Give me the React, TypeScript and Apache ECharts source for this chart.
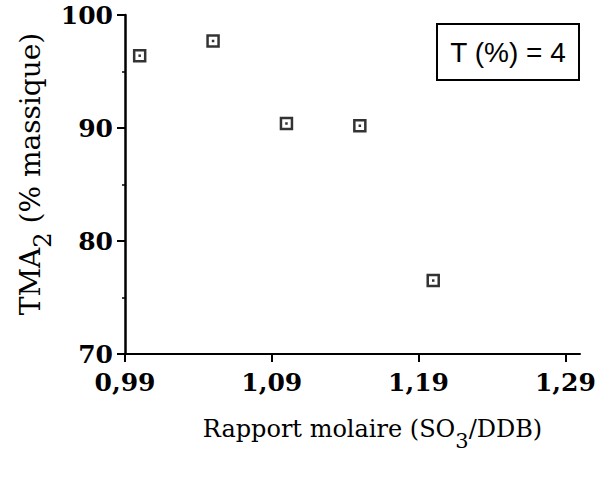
import React, { useEffect, useRef } from "react";
import * as echarts from "echarts";

const ratios = [1.0, 1.05, 1.1, 1.15, 1.2];
const tma2 = [96.4, 97.7, 90.4, 90.2, 76.5];
const xTicks = [0.99, 1.09, 1.19, 1.29];
const yTicks = [70, 80, 90, 100];
const legendText = "T (%) = 4";

const SERIF = "DejaVu Serif";

export default function App() {
  const ref = useRef<HTMLDivElement>(null);
  useEffect(() => {
    if (!ref.current) return;
    const chart = echarts.init(ref.current, undefined, { renderer: "svg" });
    const pts = ratios.map((x, i) => [x, tma2[i]]);
    chart.setOption({
      animation: false,
      backgroundColor: "#ffffff",
      grid: { left: 125, right: 29, top: 15, bottom: 123, containLabel: false },
      xAxis: {
        type: "value",
        min: 0.99,
        max: 1.3,
        splitLine: { show: false },
        axisLine: { show: true, lineStyle: { color: "#000", width: 2 } },
        axisTick: { show: true, customValues: xTicks, length: 8, lineStyle: { color: "#000", width: 2 } },
        axisLabel: {
          customValues: xTicks,
          formatter: (v: number) => v.toFixed(2).replace(".", ","),
          color: "#000",
          fontFamily: SERIF,
          fontWeight: "bold",
          fontSize: 25,
          margin: 16,
        },
        name: "Rapport molaire (SO{sub|3}/DDB)",
        nameLocation: "middle",
        nameGap: 52,
        nameTextStyle: {
          color: "#000",
          fontFamily: SERIF,
          fontSize: 24,
          padding: [0, 0, 0, 40],
          rich: {
            sub: { fontFamily: SERIF, fontSize: 21, color: "#000", verticalAlign: "top", padding: [24, 0, 0, 0] },
          },
        },
      },
      yAxis: {
        type: "value",
        min: yTicks[0],
        max: yTicks[yTicks.length - 1],
        interval: 10,
        splitLine: { show: false },
        axisLine: { show: true, lineStyle: { color: "#000", width: 2.5 } },
        axisTick: { show: true, length: 8, lineStyle: { color: "#000", width: 2 } },
        minorTick: { show: true, splitNumber: 2, length: 3, lineStyle: { color: "#000", width: 1.5 } },
        axisLabel: {
          color: "#000",
          fontFamily: SERIF,
          fontWeight: "bold",
          fontSize: 25,
          margin: 12,
        },
      },
      graphic: [
        {
          type: "text",
          x: 30,
          y: 174,
          rotation: Math.PI / 2,
          style: {
            text: "TMA{sub|2} (% massique)",
            fill: "#000",
            font: "28px 'DejaVu Serif'",
            align: "center",
            verticalAlign: "middle",
            rich: {
              sub: { font: "24px 'DejaVu Serif'", fill: "#000", verticalAlign: "top", padding: [26, 0, 0, 0] },
            },
          },
        },
        {
          type: "group",
          left: 436,
          top: 23,
          children: [
            { type: "rect", shape: { x: 0, y: 0, width: 142, height: 56 }, style: { fill: "#fff", stroke: "#000", lineWidth: 2 } },
            {
              type: "text",
              x: 71,
              y: 28,
              style: {
                text: legendText,
                fill: "#000",
                font: "28px 'Liberation Sans'",
                align: "center",
                verticalAlign: "middle",
              },
            },
          ],
        },
      ],
      series: [
        {
          type: "scatter",
          data: pts,
          symbol: "rect",
          symbolSize: 11,
          itemStyle: { color: "#fff", borderColor: "#000", borderWidth: 2.5 },
          z: 2,
        },
        {
          type: "scatter",
          data: pts,
          symbol: "rect",
          symbolSize: 2.5,
          itemStyle: { color: "#000" },
          z: 3,
        },
      ],
    });
    return () => chart.dispose();
  }, []);
  return (
    <div
      ref={ref}
      style={{ position: "absolute", left: 0, top: 0, width: 609, height: 477, background: "#fff" }}
    />
  );
}
